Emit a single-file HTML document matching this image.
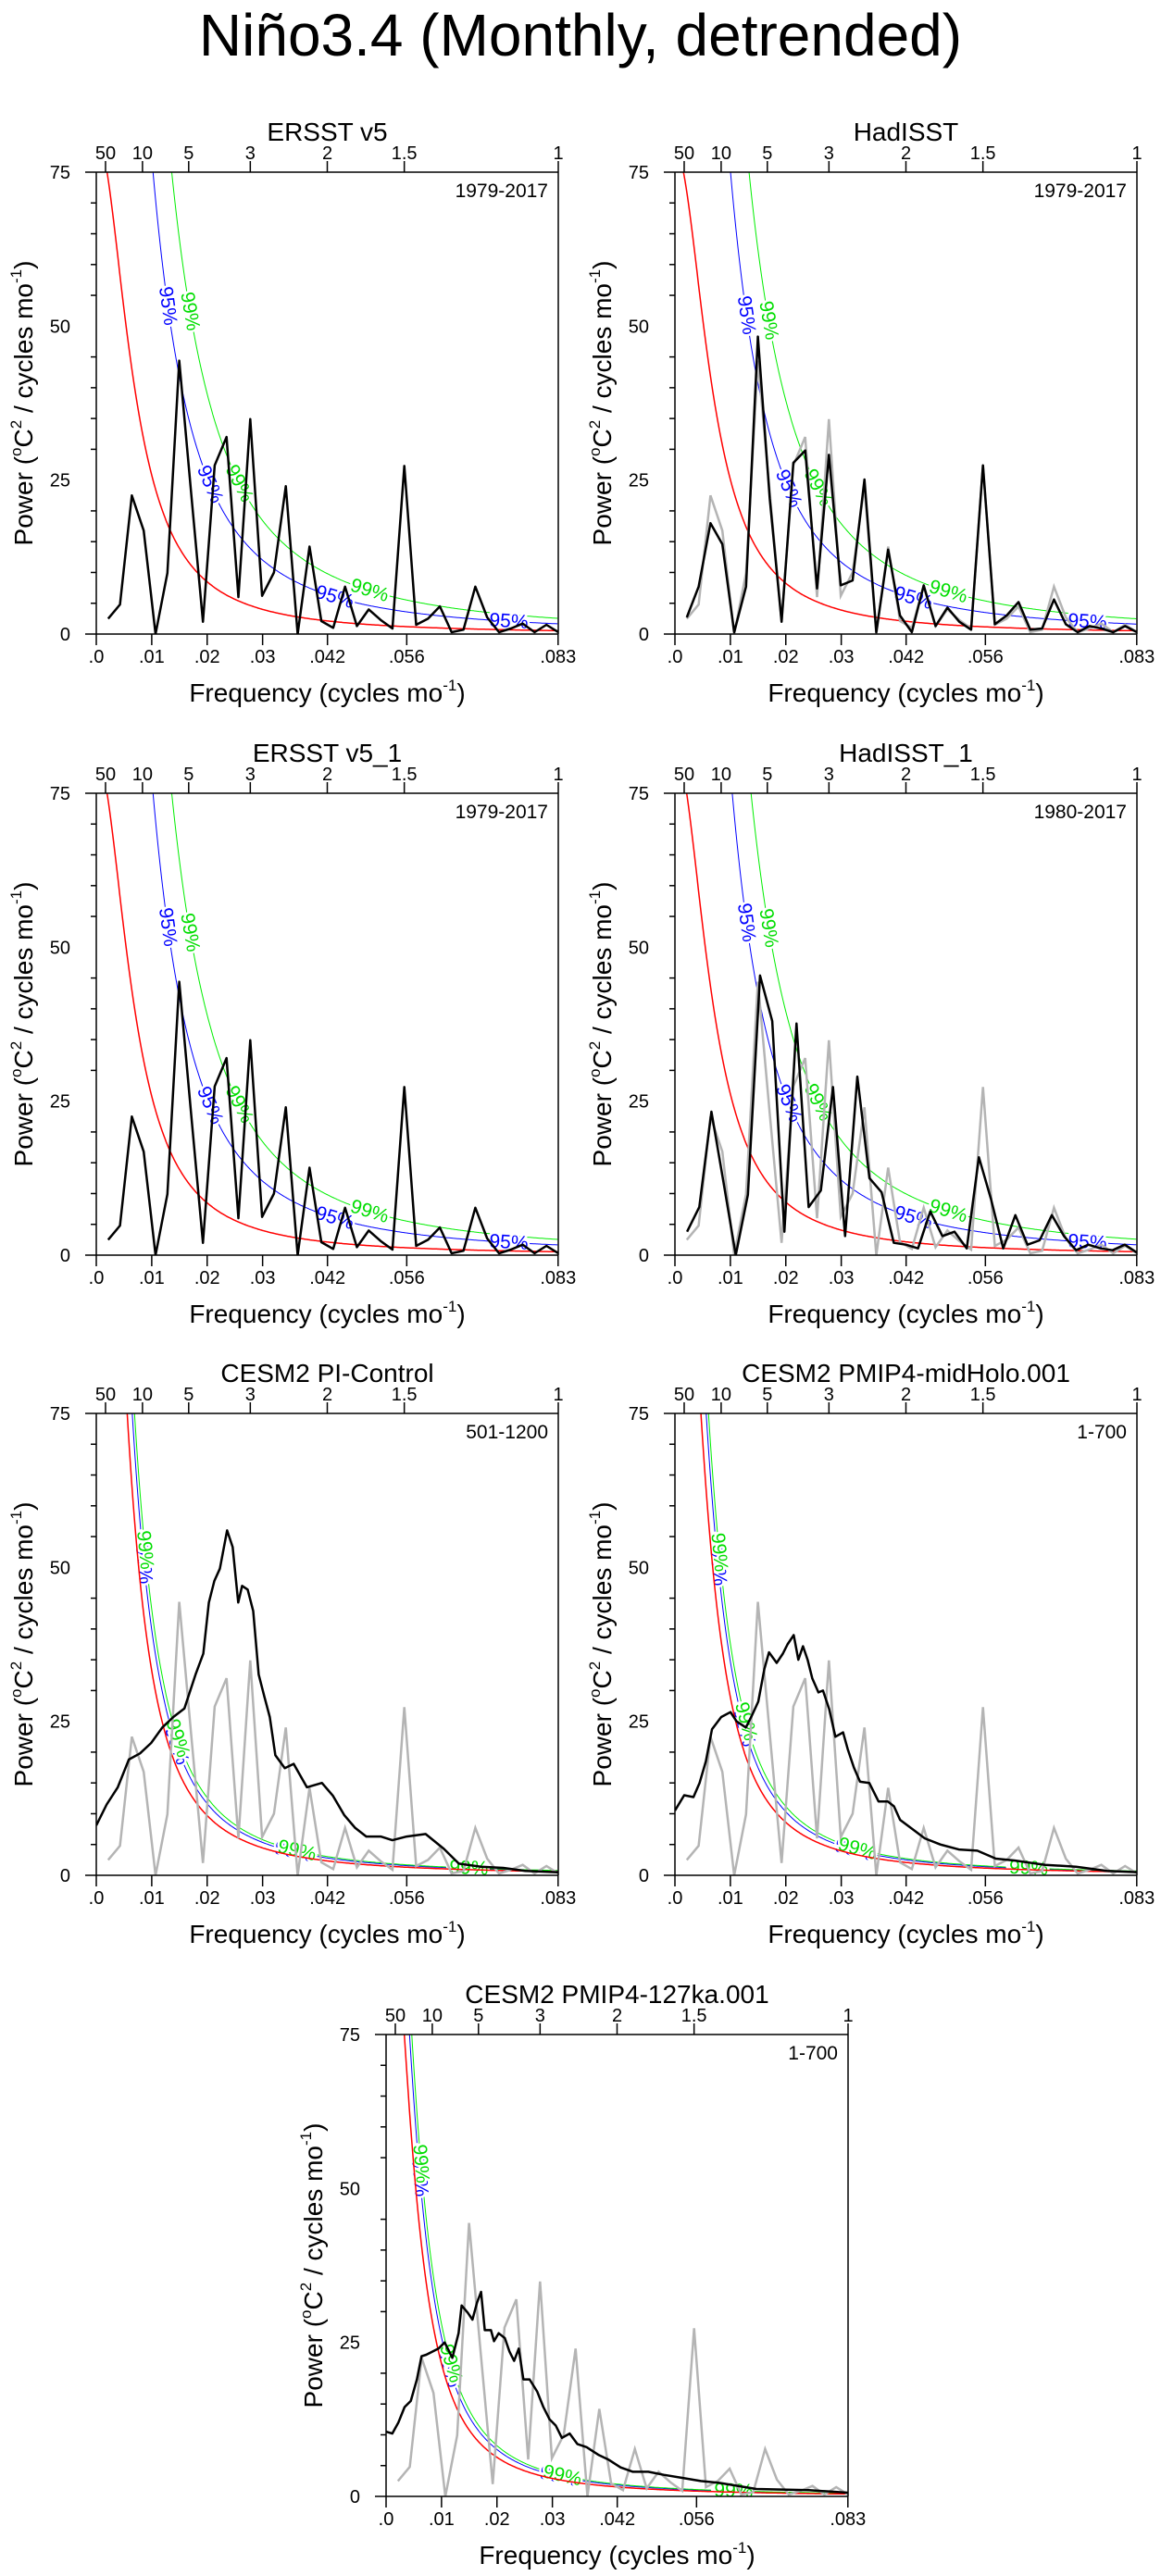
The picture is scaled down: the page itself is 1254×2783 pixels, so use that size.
<!DOCTYPE html>
<html><head><meta charset="utf-8"><title>Niño3.4 spectra</title>
<style>
html,body{margin:0;padding:0;background:#fff;}
svg{display:block;font-family:"Liberation Sans",sans-serif;}
</style></head>
<body>
<svg id="fig" width="1254" height="2783" viewBox="0 0 1254 2783" xmlns="http://www.w3.org/2000/svg">
<text x="627" y="60" font-size="64" text-anchor="middle">Niño3.4 (Monthly, detrended)</text>
</svg>
<script>
// ---- data ----
const ersstV5 = [2.5,4.8,22.5,16.8,0,9.9,44.4,23,2,27.4,32,6,34.9,6.2,10,24,0,14.2,2.1,1,7.7,1.3,4,2.3,0.9,27.3,1.5,2.5,4.5,0.3,0.7,7.7,2.7,0.3,0.9,1.7,0.3,1.5,0.3];
const hadisst = [2.7,7.7,18,14.6,0.3,7.7,48.3,22,2,27.8,29.8,7.4,29.1,7.9,8.7,25.1,0.3,13.7,3,0.3,7.9,1.3,4.3,2,0.7,27.4,1.6,3,5.2,0.7,0.9,5.6,1.6,0.3,1.3,0.9,0.3,1.3,0.3];
const hadisst1 = [3.8,7.8,23.3,11.8,0,9.8,45.4,38,3.8,37.6,7.8,10.5,27.3,3.1,29,12.5,10.2,2,1.7,1.1,7.1,3.1,3.8,1.1,15.9,9.1,1.1,6.5,1.7,2.4,6.5,3.1,0.8,1.7,1.1,0.8,1.7,0.4];
const piFreq = [0,.00187,.00388,.00588,.00789,.0099,.0119,.0139,.0159,.0179,.0193,.0203,.0213,.0223,.0236,.0246,.0256,.0263,.0273,.0283,.0293,.0303,.0313,.0323,.034,.0356,.038,.0407,.0427,.0447,.0467,.0487,.0513,.0534,.056,.0594,.0627,.0654,.0694,.0734,.0774,.0833];
const piPower = [8.1,11.5,14.3,18.8,19.8,21.5,24,25.7,27.1,32.6,36,44.3,47.8,49.8,56,53.3,44.3,47,46.4,42.9,32.6,29.1,25.7,19.5,17.4,18.1,14.3,15,12.9,9.8,7.7,6.3,6.3,5.7,6.3,6.7,4.3,1.9,1.4,1.2,0.7,0.5];
const mhFreq = [0,.00167,.00334,.00445,.00557,.00668,.00835,.01002,.01113,.0128,.01391,.01503,.01614,.01697,.01836,.01948,.02031,.02143,.02226,.02309,.02393,.02476,.02588,.02671,.02783,.02894,.03033,.03116,.03228,.03339,.03506,.03673,.0384,.03951,.04062,.04285,.04508,.04786,.0512,.05454,.05788,.06122,.06678,.07235,.07791,.08348];
const mhPower = [10.5,13,12.7,15,18.5,23.7,25.7,26.5,25,24,26,28.2,33.5,36.2,34.5,36,37.5,39,35,37.2,35,32,29.7,30,27,22.5,23.2,20.5,17.5,15.2,15,12,12,11.2,9,7.5,6,5,4.2,4,2.7,2.4,1.7,1.4,0.7,0.5];
const kaZx = [0,20,40,60,80,100,115,130,150,170,190,215,235,245,265,280,295,308,320,340,350,365,385,400,415,430,445,465,490,510,530,550,570,595,620,650,690,720,760,800,850,900,960,1020,1080,1200,1300,1370,1500];
const kaPower = [10.5,10.2,12,14.5,15.5,19,22.75,23,23.5,24,25,22.5,26.5,31,29.8,28.7,31.5,33.2,27,27,25.2,26.5,25.7,23.5,22,24,19,19,17,14.5,12.5,11.5,9.5,10.2,8.5,8,6.7,6,4.7,4,4,3.5,3,2.5,2.2,1.2,1.1,1,0.6];
const kaFreq = kaZx.map(z => z * 5.565e-5);
const yTicks = [0,25,50,75];
const xTickVals = [0,.01,.02,.03,.0417,.056,.0833];
const xTickLabels = ['.0','.01','.02','.03','.042','.056','.083'];
const periodVals = [50,10,5,3,2,1.5,1];

const NS = 'http://www.w3.org/2000/svg';
const svg = document.getElementById('fig');
function mk(tag, attrs, parent){ const e=document.createElementNS(NS,tag); for(const k in attrs) e.setAttribute(k,attrs[k]); (parent||svg).appendChild(e); return e; }
function redNoise(C,r){ return f => C/(1+r*r-2*r*Math.cos(2*Math.PI*f)); }
function idxFreq(n,N){ const a=[]; for(let k=1;k<=n;k++) a.push(k/N); return a; }

const FMAX = 1/12, YMAX = 75, W = 499, H = 499;

const panels = [
 {L:104,T:186,title:'ERSST v5',yrs:'1979-2017',f:idxFreq(39,468),p:ersstV5,gray:false,C:.143,r:.958,m95:3.0,m99:4.6,lab95:[.0129,.0205,.043,.0744],lab99:[.0169,.0258,.0493],name:'ersst-v5'},
 {L:729,T:186,title:'HadISST',yrs:'1979-2017',f:idxFreq(39,468),p:hadisst,gray:true,C:.139,r:.958,m95:3.0,m99:4.6,lab95:[.0129,.0205,.043,.0744],lab99:[.0169,.0258,.0493],name:'hadisst'},
 {L:104,T:857,title:'ERSST v5_1',yrs:'1979-2017',f:idxFreq(39,468),p:ersstV5,gray:false,C:.143,r:.958,m95:3.0,m99:4.6,lab95:[.0129,.0205,.043,.0744],lab99:[.0169,.0258,.0493],name:'ersst-v5-1'},
 {L:729,T:857,title:'HadISST_1',yrs:'1980-2017',f:idxFreq(38,456),p:hadisst1,gray:true,C:.145,r:.958,m95:3.0,m99:4.6,lab95:[.0129,.0205,.043,.0744],lab99:[.0169,.0258,.0493],name:'hadisst-1'},
 {L:104,T:1527,title:'CESM2 PI-Control',yrs:'501-1200',f:piFreq,p:piPower,gray:true,C:.157,r:.970,m95:1.2,m99:1.3,lab95:[.0086,.0145,.0356,.0668],lab99:[.0088,.0147,.0362,.0672],name:'cesm2-pi-control'},
 {L:729,T:1527,title:'CESM2 PMIP4-midHolo.001',yrs:'1-700',f:mhFreq,p:mhPower,gray:true,C:.14,r:.968,m95:1.2,m99:1.3,lab95:[.0078,.0125,.0323,.0634],lab99:[.008,.0128,.0329,.0638],name:'cesm2-midholo'},
 {L:417,T:2198,title:'CESM2 PMIP4-127ka.001',yrs:'1-700',f:kaFreq,p:kaPower,gray:true,C:.103,r:.969,m95:1.2,m99:1.3,lab95:[.0061,.0114,.0312,.0623],lab99:[.0063,.0117,.0318,.0627],name:'cesm2-127ka'}
];

panels.forEach((P,pi)=>{
  const X = f => P.L + f/FMAX*W;
  const Y = v => P.T + H - v/YMAX*H;
  const B = P.T + H, R = P.L + W;
  const g = mk('g',{});
  
  
  const cp = mk('clipPath',{id:'clip'+pi},g);
  mk('rect',{x:P.L,y:P.T,width:W,height:H},cp);
  const pg = mk('g',{'clip-path':'url(#clip'+pi+')'},g);

  const red = redNoise(P.C,P.r);
  const b95 = f => red(f)*P.m95, g99 = f => red(f)*P.m99;
  function curvePath(fn){ let d=''; for(let f=0.0008; f<=FMAX+1e-9; f+=0.0002){ const v=Math.min(fn(f),200); d += (d?'L':'M')+X(f).toFixed(1)+','+Y(v).toFixed(1);} return d; }
  const cb = mk('path',{d:curvePath(b95),fill:'none',stroke:'#0000ff','stroke-width':1},pg);
  
  
  const cg = mk('path',{d:curvePath(g99),fill:'none',stroke:'#00ee00','stroke-width':1},pg);
  
  

  function lab(fn,f,txt,col){
    const x0=X(f), y0=Y(fn(f)), x1=X(f+1e-4), y1=Y(fn(f+1e-4));
    const ang=Math.atan2(y1-y0,x1-x0)*180/Math.PI;
    const t = mk('text',{x:x0.toFixed(1),y:y0.toFixed(1),'font-size':21,fill:col,'text-anchor':'middle','dominant-baseline':'central',stroke:'#fff','stroke-width':5,'paint-order':'stroke',transform:'rotate('+ang.toFixed(1)+' '+x0.toFixed(1)+' '+y0.toFixed(1)+')'},pg);
    t.textContent = txt;
    
    
  }
  P.lab95.forEach(f=>lab(b95,f,'95%','#0000ff'));
  P.lab99.forEach(f=>lab(g99,f,'99%','#00dd00'));

  const cr = mk('path',{d:curvePath(red),fill:'none',stroke:'#ff0000','stroke-width':1.5},pg);
  
  

  if(P.gray){
    const fq = idxFreq(39,468);
    const gp = mk('polyline',{points:ersstV5.map((v,i)=>X(fq[i]).toFixed(1)+','+Y(v).toFixed(1)).join(' '),fill:'none',stroke:'#b4b4b4','stroke-width':2.5},pg);
    
    
  }
  const bp = mk('polyline',{points:P.p.map((v,i)=>X(P.f[i]).toFixed(1)+','+Y(v).toFixed(1)).join(' '),fill:'none',stroke:'#000','stroke-width':2.5,'stroke-linejoin':'round'},pg);
  
  

  // axes
  const ax = mk('g',{stroke:'#000','stroke-width':1.5,fill:'none'},g);
  
  
  mk('line',{x1:P.L-12,y1:P.T,x2:R,y2:P.T},ax);
  mk('line',{x1:P.L-12,y1:B,x2:R,y2:B},ax);
  mk('line',{x1:P.L,y1:P.T,x2:P.L,y2:B},ax);
  mk('line',{x1:R,y1:P.T,x2:R,y2:B},ax);
  for(let v=5; v<75; v+=5){ if(v%25) mk('line',{x1:P.L-6,y1:Y(v),x2:P.L,y2:Y(v)},ax); }
  yTicks.forEach(v=>{
    const t = mk('text',{x:P.L-28,y:Y(v)+7,'font-size':20,'text-anchor':'end'},g);
    t.textContent = v;
    
    
  });
  xTickVals.forEach((f,i)=>{
    mk('line',{x1:X(f),y1:B,x2:X(f),y2:B+12},ax);
    const t = mk('text',{x:X(f),y:B+31,'font-size':20,'text-anchor':'middle'},g);
    t.textContent = xTickLabels[i];
    
    
  });
  periodVals.forEach(p=>{
    const f = 1/(12*p);
    mk('line',{x1:X(f),y1:P.T,x2:X(f),y2:P.T-12},ax);
    const t = mk('text',{x:X(f),y:P.T-14,'font-size':20,'text-anchor':'middle'},g);
    t.textContent = p;
    
    
  });
  const tt = mk('text',{x:P.L+W/2,y:P.T-34,'font-size':28,'text-anchor':'middle'},g);
  tt.textContent = P.title;
  
  
  const yr = mk('text',{x:R-11,y:P.T+27,'font-size':21,'text-anchor':'end'},g);
  yr.textContent = P.yrs;
  
  
  const xt = mk('text',{x:P.L+W/2,y:B+73,'font-size':28,'text-anchor':'middle'},g);
  xt.innerHTML = 'Frequency (cycles mo<tspan font-size="17" dy="-12">-1</tspan><tspan dy="12">)</tspan>';
  
  
  const cy = P.T+H/2;
  const yt = mk('text',{x:0,y:0,'font-size':28,'text-anchor':'middle',transform:'translate('+(P.L-69)+','+cy+') rotate(-90)'},g);
  yt.innerHTML = 'Power (<tspan font-size="17" dy="-12">o</tspan><tspan dy="12">C</tspan><tspan font-size="17" dy="-12">2</tspan><tspan dy="12"> / cycles mo</tspan><tspan font-size="17" dy="-12">-1</tspan><tspan dy="12">)</tspan>';
  
  
});
</script>
</body></html>
